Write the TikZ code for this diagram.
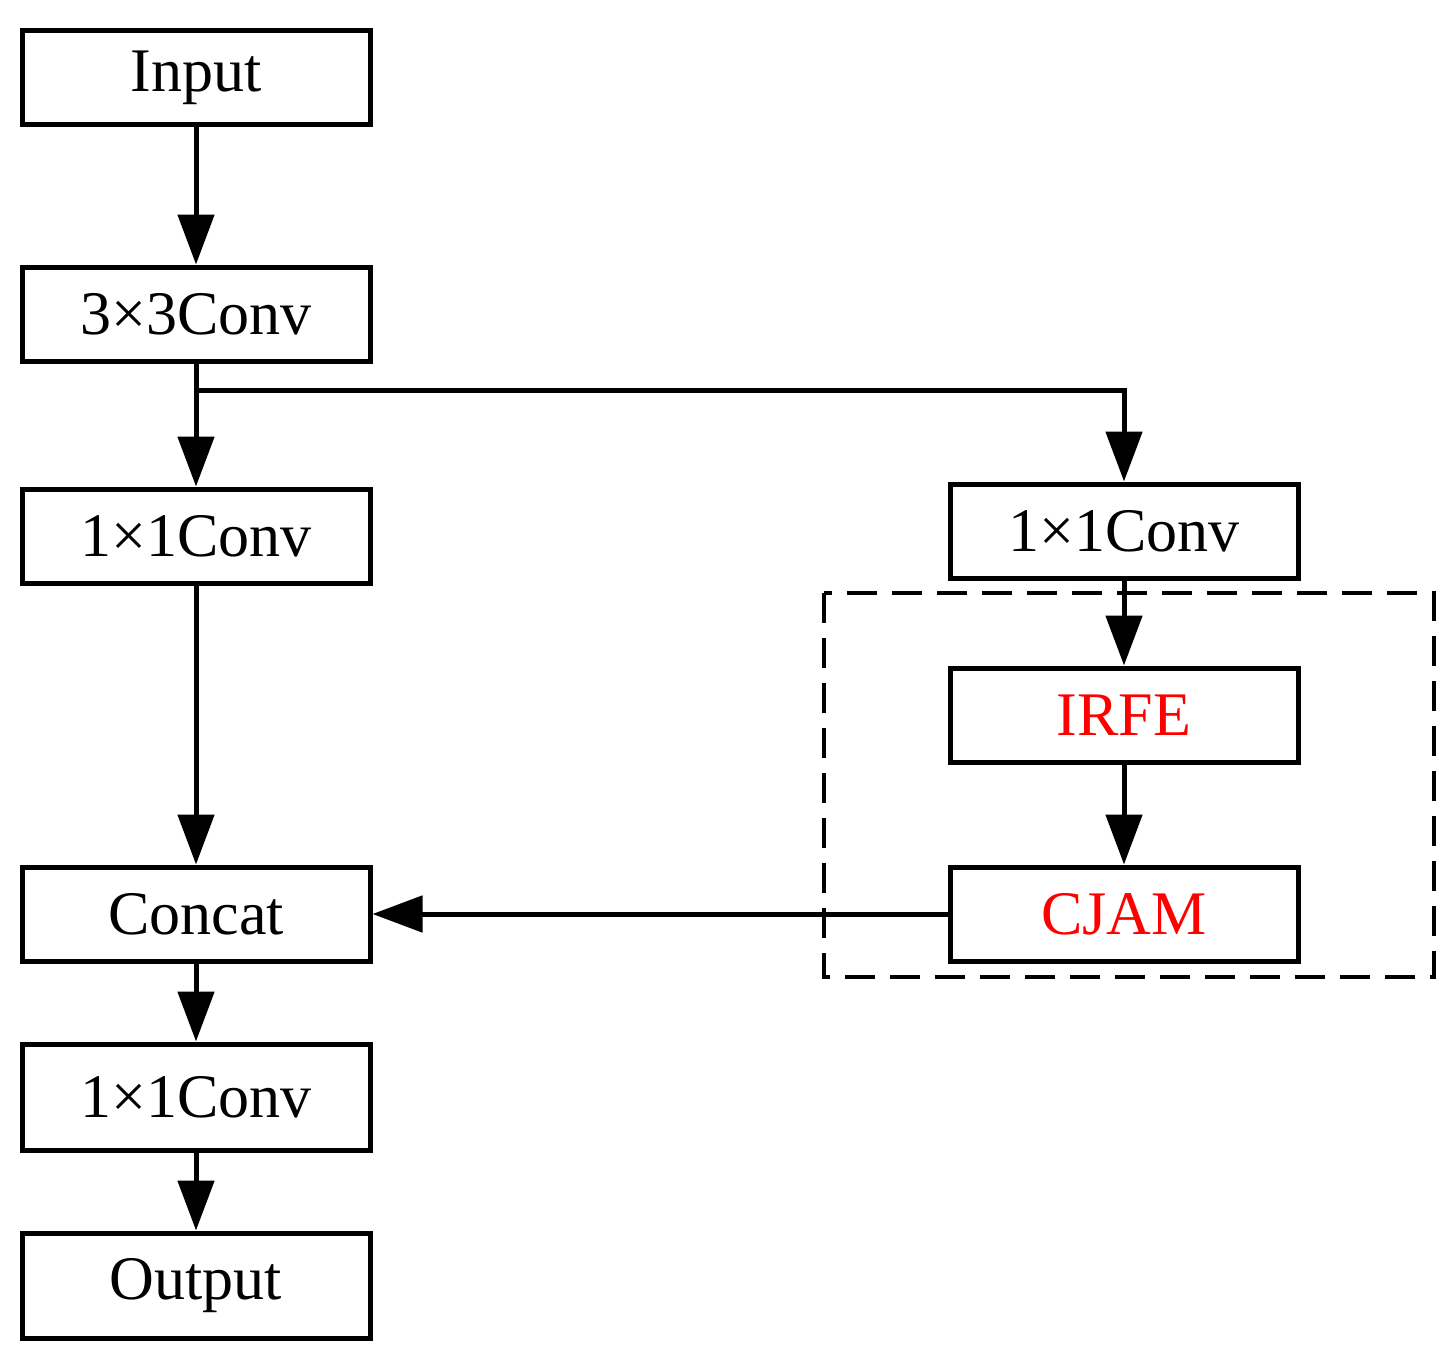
\documentclass[tikz,border=0pt]{standalone}
\usepackage{fontspec}
\setmainfont{Liberation Serif}
\usetikzlibrary{arrows.meta}
\begin{document}
\begin{tikzpicture}[x=1pt,y=-1pt,
  box/.style={draw,line width=5pt,minimum width=348pt,minimum height=94pt,inner sep=0pt,font=\fontsize{62}{70}\selectfont},
  red/.style={text={rgb,255:red,255;green,0;blue,0}},
  arr/.style={line width=5pt,-{Triangle[length=50pt,width=36pt]}}]
\useasboundingbox (0,0) rectangle (1450,1363);
\node[box] (in) at (196,77.5) {Input};
\node[box] (c3) at (196,314) {3×3Conv};
\node[box] (c1l) at (196,536) {1×1Conv};
\node[box] (cat) at (196,914) {Concat};
\node[box,minimum height=106pt] (c1b) at (196,1097) {1×1Conv};
\node[box,minimum height=105pt] (out) at (196,1285.5) {Output};
\node[box] (c1r) at (1124,531) {1×1Conv};
\node[box,red] (irfe) at (1124,715) {IRFE};
\node[box,red] (cjam) at (1124,914) {CJAM};
\draw[line width=4pt,dash pattern=on 30pt off 15pt] (824,593) rectangle (1434,977);
\coordinate (br) at (196,390);
\draw[arr] (in) -- (c3);
\draw[arr] (c3) -- (c1l);
\draw[arr] (br) -| (c1r);
\draw[arr] (c1l) -- (cat);
\draw[arr] (c1r) -- (irfe);
\draw[arr] (irfe) -- (cjam);
\draw[arr] (cjam) -- (cat);
\draw[arr] (cat) -- (c1b);
\draw[arr] (c1b) -- (out);
\end{tikzpicture}
\end{document}
